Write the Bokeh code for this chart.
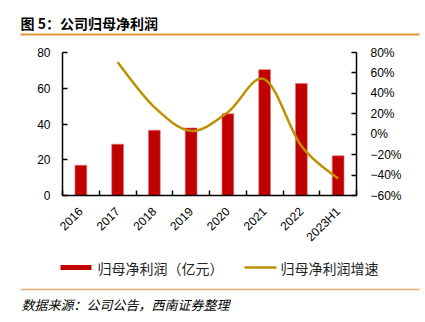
import math
from bokeh.plotting import figure
from bokeh.layouts import column
from bokeh.models import Range1d, LinearAxis, FixedTicker, ColumnDataSource
from bokeh.core.properties import value
from bokeh.embed import file_html
from bokeh.resources import INLINE

# ---------------- data ----------------
categories = ["2016", "2017", "2018", "2019", "2020", "2021", "2022", "2023H1"]
profit = [16.9, 28.7, 36.5, 37.8, 45.7, 70.4, 62.6, 22.2]          # 归母净利润（亿元）
growth = [None, 70.5, 26.5, 3.3, 21.5, 53.8, -11.5, -43.5]          # 归母净利润增速 (%)
left_ticks = [0, 20, 40, 60, 80]
right_ticks = [-60, -40, -20, 0, 20, 40, 60, 80]
right_tick_labels = ["−60%", "−40%", "−20%", "0%", "20%", "40%", "60%", "80%"]

title_text = "图 5：公司归母净利润"
source_text = "数据来源：公司公告，西南证券整理"
bar_name = "归母净利润（亿元）"
line_name = "归母净利润增速"

# ---------------- styles ----------------
BAR_COLOR = "#C00000"
LINE_COLOR = "#BF9000"
SEP_COLOR = "#E39535"
SEP2_COLOR = "#E6AE6C"
CJK = "Noto Sans CJK SC"
NUM = "Liberation Sans"

W = 425
HEAD_H, MAIN_H, FOOT_H = 45, 210, 67
FRAME_TOP, FRAME_BOTTOM = 52, 195          # canvas px of the plotting frame
FL, FR = 62, 356


def blank(height):
    f = figure(width=W, height=height, output_backend="svg", toolbar_location=None,
               x_range=Range1d(0, W), y_range=Range1d(height, 0),
               min_border=0, min_border_left=0, min_border_right=0,
               min_border_top=0, min_border_bottom=0, frame_align=False,
               x_axis_type=None, y_axis_type=None)
    f.outline_line_color = None
    f.grid.visible = False
    return f


# ---------------- header ----------------
head = blank(HEAD_H)
head.text(x=[20], y=[22], text=[title_text], text_font=value(CJK), text_font_size="14px",
          text_font_style="bold", text_baseline="middle", text_align="left", text_color="black")
head.segment(x0=[20], y0=[34], x1=[419], y1=[34], line_color=SEP_COLOR, line_width=2)

# ---------------- main chart ----------------
p = figure(width=W, height=MAIN_H, output_backend="svg", toolbar_location=None,
           x_range=Range1d(0, len(categories)), y_range=Range1d(0, 80),
           min_border_left=FL, min_border_right=W - FR,
           min_border_top=FRAME_TOP - HEAD_H, min_border_bottom=HEAD_H + MAIN_H - FRAME_BOTTOM,
           frame_align=False, x_axis_type=None, y_axis_type=None,
           background_fill_color="white", border_fill_color="white")
p.outline_line_color = None
p.grid.visible = False

xs = [i + 0.5 for i in range(len(categories))]
src = ColumnDataSource(dict(x=xs, top=profit))
bars = p.vbar(x="x", top="top", width=0.32, bottom=0, source=src,
              fill_color=BAR_COLOR, line_color="#E07070", line_width=0.6)

p.extra_y_ranges = {"pct": Range1d(-60, 80)}

# Excel-like smoothed line: cubic Bezier segments through the growth points
gx = [xs[i] for i in range(len(growth)) if growth[i] is not None]
gy = [g for g in growth if g is not None]
n = len(gx)
seg = dict(x0=[], y0=[], x1=[], y1=[], cx0=[], cy0=[], cx1=[], cy1=[])
for i in range(n - 1):
    pxm, pym = (gx[i - 1], gy[i - 1]) if i > 0 else (gx[i], gy[i])
    pxp, pyp = (gx[i + 2], gy[i + 2]) if i + 2 < n else (gx[i + 1], gy[i + 1])
    seg["x0"].append(gx[i]); seg["y0"].append(gy[i])
    seg["x1"].append(gx[i + 1]); seg["y1"].append(gy[i + 1])
    seg["cx0"].append(gx[i] + (gx[i + 1] - pxm) / 6); seg["cy0"].append(gy[i] + (gy[i + 1] - pym) / 6)
    seg["cx1"].append(gx[i + 1] - (pxp - gx[i]) / 6); seg["cy1"].append(gy[i + 1] - (pyp - gy[i]) / 6)
curve = p.bezier(x0="x0", y0="y0", x1="x1", y1="y1", cx0="cx0", cy0="cy0", cx1="cx1", cy1="cy1",
                 source=ColumnDataSource(seg), line_color=LINE_COLOR, line_width=2.5,
                 y_range_name="pct")

# axes
xax = LinearAxis(ticker=FixedTicker(ticks=xs, minor_ticks=list(range(0, len(categories) + 1))),
                 major_label_overrides={x: c for x, c in zip(xs, categories)})
xax.major_label_orientation = math.pi / 4
xax.major_tick_in = 0
xax.major_tick_out = 0
xax.minor_tick_in = 5
xax.minor_tick_out = 0
xax.minor_tick_line_color = "black"
xax.minor_tick_line_width = 1.5
xax.axis_line_color = "black"
xax.axis_line_width = 1.5
xax.major_label_standoff = 14
xax.major_label_text_font = NUM
xax.major_label_text_font_size = "12px"
xax.major_label_text_color = "black"
p.add_layout(xax, "below")

lax = LinearAxis(ticker=FixedTicker(ticks=left_ticks))
lax.major_tick_in = 5
lax.major_tick_out = 0
lax.minor_tick_line_color = None
lax.axis_line_color = "black"
lax.axis_line_width = 1.5
lax.major_tick_line_width = 1.5
lax.major_label_standoff = 12
lax.major_label_text_font = NUM
lax.major_label_text_font_size = "12px"
lax.major_label_text_color = "black"
p.add_layout(lax, "left")

rax = LinearAxis(y_range_name="pct", ticker=FixedTicker(ticks=right_ticks),
                 major_label_overrides={t: s for t, s in zip(right_ticks, right_tick_labels)})
rax.major_tick_in = 5
rax.major_tick_out = 0
rax.minor_tick_line_color = None
rax.axis_line_color = "black"
rax.axis_line_width = 1.5
rax.major_tick_line_width = 1.5
rax.major_label_standoff = 14
rax.major_label_text_font = NUM
rax.major_label_text_font_size = "12px"
rax.major_label_text_color = "black"
p.add_layout(rax, "right")

# ---------------- footer: legend, separator, source ----------------
foot = blank(FOOT_H)
LY = 12   # legend row centre in footer px
foot.quad(left=[60], right=[91], top=[LY - 2.5], bottom=[LY + 2.5],
          fill_color=BAR_COLOR, line_color=None)
foot.text(x=[97], y=[LY], text=[bar_name], text_font=value(CJK), text_font_size="14px",
          text_baseline="middle", text_align="left", text_color="#222222")
foot.segment(x0=[244], y0=[LY], x1=[276], y1=[LY], line_color=LINE_COLOR, line_width=2.5)
foot.text(x=[280], y=[LY], text=[line_name], text_font=value(CJK), text_font_size="14px",
          text_baseline="middle", text_align="left", text_color="#222222")
foot.segment(x0=[20], y0=[34], x1=[419], y1=[34], line_color=SEP2_COLOR, line_width=1.5)
foot.text(x=[21], y=[49], text=[source_text], text_font=value(CJK), text_font_size="13px",
          text_font_style="italic", text_baseline="middle", text_align="left", text_color="black")

layout = column(head, p, foot, spacing=0)
open("out.html", "w").write(file_html(layout, INLINE))
